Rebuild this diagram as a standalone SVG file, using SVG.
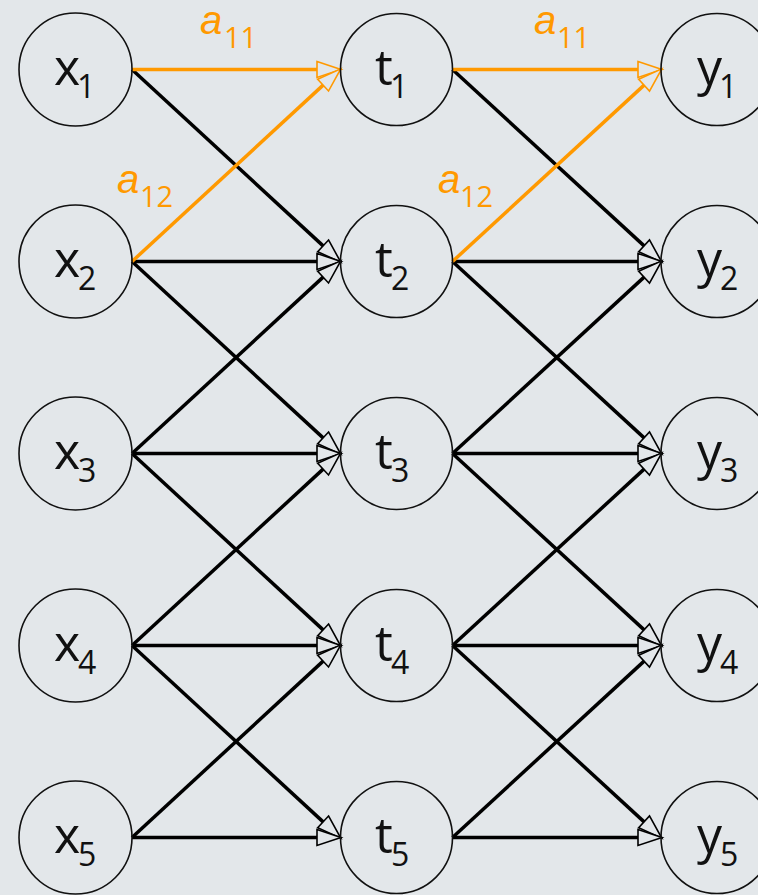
<svg xmlns="http://www.w3.org/2000/svg" width="758" height="895" viewBox="0 0 758 895">
<style>
.bg{fill:#e3e7ea}
.node circle{fill:none;stroke:#111;stroke-width:1.6}
.node text{font-family:"Open Sans","DejaVu Sans",sans-serif;font-size:50px;fill:#111}
.node .s{font-size:32px}
.e{stroke:#000;stroke-width:3.5;fill:none;marker-end:url(#ab)}
.o{stroke:#ff9900;stroke-width:3.5;fill:none;marker-end:url(#ao)}
.lab{font-family:"Liberation Sans",Arial,sans-serif;font-style:italic;font-size:40px;fill:#ff9900}
.lab .s{font-family:"Open Sans",sans-serif;font-style:normal;font-size:29px}
</style>
<defs>
<marker id="ab" markerUnits="userSpaceOnUse" orient="auto" refX="0" refY="0" markerWidth="30" markerHeight="20" viewBox="-5 -10 30 20" overflow="visible">
<path d="M-3,-8 L21,0 L-3,8 Z" fill="#e3e7ea" stroke="#000" stroke-width="1.6" stroke-linejoin="miter"/>
</marker>
<marker id="ao" markerUnits="userSpaceOnUse" orient="auto" refX="0" refY="0" markerWidth="30" markerHeight="20" viewBox="-5 -10 30 20" overflow="visible">
<path d="M-3,-8 L21,0 L-3,8 Z" fill="#e3e7ea" stroke="#ff9900" stroke-width="1.6" stroke-linejoin="miter"/>
</marker>
</defs>
<rect class="bg" x="0" y="0" width="758" height="895"/>
<g id="connectors">
<line class="e" x1="132" y1="69.5" x2="325.3" y2="247.9"/>
<line class="e" x1="132" y1="261.5" x2="320" y2="261.5"/>
<line class="e" x1="132" y1="261.5" x2="325.3" y2="439.9"/>
<line class="e" x1="132" y1="453.5" x2="325.3" y2="275.1"/>
<line class="e" x1="132" y1="453.5" x2="320" y2="453.5"/>
<line class="e" x1="132" y1="453.5" x2="325.3" y2="631.9"/>
<line class="e" x1="132" y1="645.5" x2="325.3" y2="467.1"/>
<line class="e" x1="132" y1="645.5" x2="320" y2="645.5"/>
<line class="e" x1="132" y1="645.5" x2="325.3" y2="823.9"/>
<line class="e" x1="132" y1="837.5" x2="325.3" y2="659.1"/>
<line class="e" x1="132" y1="837.5" x2="320" y2="837.5"/>
<line class="e" x1="452.5" y1="69.5" x2="646.3" y2="247.9"/>
<line class="e" x1="452.5" y1="261.5" x2="641" y2="261.5"/>
<line class="e" x1="452.5" y1="261.5" x2="646.3" y2="439.9"/>
<line class="e" x1="452.5" y1="453.5" x2="646.3" y2="275.1"/>
<line class="e" x1="452.5" y1="453.5" x2="641" y2="453.5"/>
<line class="e" x1="452.5" y1="453.5" x2="646.3" y2="631.9"/>
<line class="e" x1="452.5" y1="645.5" x2="646.3" y2="467.1"/>
<line class="e" x1="452.5" y1="645.5" x2="641" y2="645.5"/>
<line class="e" x1="452.5" y1="645.5" x2="646.3" y2="823.9"/>
<line class="e" x1="452.5" y1="837.5" x2="646.3" y2="659.1"/>
<line class="e" x1="452.5" y1="837.5" x2="641" y2="837.5"/>
<line class="o" x1="132" y1="69.5" x2="320" y2="69.5"/>
<line class="o" x1="132" y1="261.5" x2="325.3" y2="83.1"/>
<line class="o" x1="452.5" y1="69.5" x2="641" y2="69.5"/>
<line class="o" x1="452.5" y1="261.5" x2="646.3" y2="83.1"/>
<text class="lab"><tspan x="200" y="34">a</tspan><tspan class="s" x="224" y="48">11</tspan></text>
<text class="lab"><tspan x="117" y="193">a</tspan><tspan class="s" x="140" y="207">12</tspan></text>
<text class="lab"><tspan x="534" y="34">a</tspan><tspan class="s" x="557" y="48">11</tspan></text>
<text class="lab"><tspan x="438" y="193">a</tspan><tspan class="s" x="460" y="207">12</tspan></text>
</g>
<g id="x1" class="node"><circle cx="75.5" cy="69.5" r="56.5"/><text><tspan x="54" y="85">x</tspan><tspan class="s" x="77" y="98">1</tspan></text></g>
<g id="x2" class="node"><circle cx="75.5" cy="261.5" r="56.5"/><text><tspan x="54" y="277">x</tspan><tspan class="s" x="78" y="290">2</tspan></text></g>
<g id="x3" class="node"><circle cx="75.5" cy="453.5" r="56.5"/><text><tspan x="54" y="469">x</tspan><tspan class="s" x="78" y="482">3</tspan></text></g>
<g id="x4" class="node"><circle cx="75.5" cy="645.5" r="56.5"/><text><tspan x="54" y="661">x</tspan><tspan class="s" x="78" y="674">4</tspan></text></g>
<g id="x5" class="node"><circle cx="75.5" cy="837.5" r="56.5"/><text><tspan x="54" y="853">x</tspan><tspan class="s" x="78" y="866">5</tspan></text></g>
<g id="t1" class="node"><circle cx="396.5" cy="69.5" r="56"/><text><tspan x="375" y="85">t</tspan><tspan class="s" x="390" y="98">1</tspan></text></g>
<g id="t2" class="node"><circle cx="396.5" cy="261.5" r="56"/><text><tspan x="375" y="277">t</tspan><tspan class="s" x="391" y="290">2</tspan></text></g>
<g id="t3" class="node"><circle cx="396.5" cy="453.5" r="56"/><text><tspan x="375" y="469">t</tspan><tspan class="s" x="391" y="482">3</tspan></text></g>
<g id="t4" class="node"><circle cx="396.5" cy="645.5" r="56"/><text><tspan x="375" y="661">t</tspan><tspan class="s" x="391" y="674">4</tspan></text></g>
<g id="t5" class="node"><circle cx="396.5" cy="837.5" r="56"/><text><tspan x="375" y="853">t</tspan><tspan class="s" x="391" y="866">5</tspan></text></g>
<g id="y1" class="node"><circle cx="717" cy="69.5" r="56"/><text><tspan x="697" y="85">y</tspan><tspan class="s" x="719" y="98">1</tspan></text></g>
<g id="y2" class="node"><circle cx="717" cy="261.5" r="56"/><text><tspan x="697" y="277">y</tspan><tspan class="s" x="720" y="290">2</tspan></text></g>
<g id="y3" class="node"><circle cx="717" cy="453.5" r="56"/><text><tspan x="697" y="469">y</tspan><tspan class="s" x="720" y="482">3</tspan></text></g>
<g id="y4" class="node"><circle cx="717" cy="645.5" r="56"/><text><tspan x="697" y="661">y</tspan><tspan class="s" x="720" y="674">4</tspan></text></g>
<g id="y5" class="node"><circle cx="717" cy="837.5" r="56"/><text><tspan x="697" y="853">y</tspan><tspan class="s" x="720" y="866">5</tspan></text></g>
</svg>
